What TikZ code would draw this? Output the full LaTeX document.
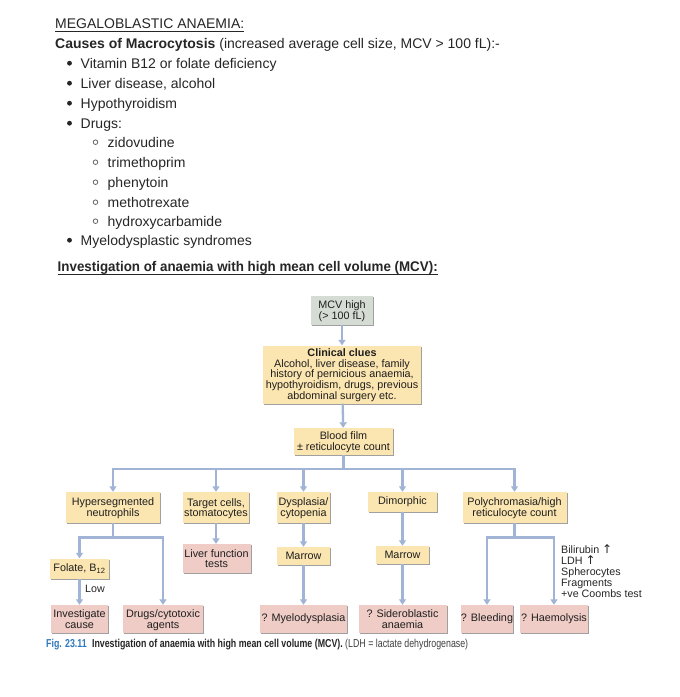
\documentclass[tikz,border=0pt]{standalone}
\usepackage{fontspec}
\setmainfont{Liberation Sans}
\newfontfamily\symf{DejaVu Sans}
\usetikzlibrary{arrows.meta,shadows,calc}
\definecolor{txt}{HTML}{262626}
\definecolor{yel}{HTML}{FBE5B0}
\definecolor{pnk}{HTML}{EFCDC6}
\definecolor{gry}{HTML}{D5DCD4}
\definecolor{lnk}{HTML}{A2B4D6}
\definecolor{shd}{HTML}{A0A0A0}
\definecolor{figblue}{HTML}{2E78BD}
\newcommand\bxt[2][-1.5pt]{\raisebox{#1}[\height][\depth]{\begin{tabular}{@{}c@{}}#2\end{tabular}}}
\begin{document}
\begin{tikzpicture}[x=1pt,y=-1pt,
  list/.style={anchor=base west,inner sep=0,text=txt,font=\fontsize{14}{16}\selectfont},
  dot/.style={fill=txt},
  ring/.style={draw=txt!70,line width=0.8pt},
  ul/.style={draw=txt,line width=1pt},
  box/.style={inner sep=0,text=black!88,font=\fontsize{10.8}{10.4}\selectfont,
    drop shadow={shadow xshift=1.2pt,shadow yshift=-1.2pt,fill=shd,opacity=1}},
  ybox/.style={box,fill=yel},
  pbox/.style={box,fill=pnk},
  gbox/.style={box,fill=gry},
  conn/.style={draw=lnk,line width=2.3pt},
  arr/.style={conn,-{Triangle[width=7pt,length=5.5pt]}},
  side/.style={inner sep=0,align=left,text=black!85,font=\fontsize{10.7}{11}\selectfont},
]
\useasboundingbox[fill=white] (0,0) rectangle (680,697);

% ---- text part ----
\node[list] (title) at (55,28) {MEGALOBLASTIC ANAEMIA:};
\draw[ul] ($(title.base west)+(0,3.5)$) -- ($(title.base east)+(0,3.5)$);
\node[list] (causes) at (55,48) {\textbf{Causes of Macrocytosis} (increased average cell size, MCV > 100 fL):-};
\foreach \y/\t [count=\i] in {68/Vitamin B12 or folate deficiency,88/{Liver disease, alcohol},108/Hypothyroidism,128/Drugs:,245/Myelodysplastic syndromes}{
  \fill[dot] (69.5,\y-4.8) circle (2.4pt);
  \node[list] (b\i) at (80.5,\y) {\t};
}
\foreach \y/\t [count=\i] in {147/zidovudine,167/trimethoprim,187/phenytoin,207/methotrexate,226/hydroxycarbamide}{
  \draw[ring] (95.5,\y-4.8) circle (2.3pt);
  \node[list] (s\i) at (107.5,\y) {\t};
}
\node[list] (inv) at (57.5,271) {\resizebox{380pt}{\height}{\textbf{Investigation of anaemia with high mean cell volume (MCV):}}};
\draw[ul] ($(inv.base west)+(0,3.5)$) -- ($(inv.base east)+(0,3.5)$);

% ---- flowchart ----
\node[gbox,minimum width=62pt,minimum height=29pt] (mcv) at (342,310) {\bxt{MCV high\\(> 100 fL)}};
\node[ybox,minimum width=158pt,minimum height=58pt,font=\fontsize{10.8}{9.8}\selectfont] (clin) at (342,374.5) {\bxt[-1pt]{\textbf{Clinical clues}\\Alcohol, liver disease, family\\history of pernicious anaemia,\\hypothyroidism, drugs, previous\\abdominal surgery etc.}};
\node[ybox,minimum width=99pt,minimum height=27pt] (film) at (343.5,441.5) {\bxt{Blood film\\± reticulocyte count}};

\node[ybox,minimum width=94pt,minimum height=31pt] (hyper) at (113,507.5) {\bxt{Hypersegmented\\neutrophils}};
\node[ybox,minimum width=66pt,minimum height=31pt] (target) at (216,507.5) {\bxt{Target cells,\\stomatocytes}};
\node[ybox,minimum width=53pt,minimum height=31pt] (dysp) at (303.5,507.5) {\bxt{Dysplasia/\\cytopenia}};
\node[ybox,minimum width=69pt,minimum height=20pt] (dimor) at (402.5,502) {Dimorphic};
\node[ybox,minimum width=104pt,minimum height=31pt] (poly) at (514.5,507.5) {\bxt{Polychromasia/high\\reticulocyte count}};

\node[ybox,minimum width=59pt,minimum height=20pt] (folate) at (79.5,568.5) {Folate, B\textsubscript{12}};
\node[pbox,minimum width=68pt,minimum height=29pt] (liver) at (216.5,558.5) {\bxt{Liver function\\tests}};
\node[ybox,minimum width=53pt,minimum height=18pt] (marrowa) at (303.5,556) {Marrow};
\node[ybox,minimum width=53pt,minimum height=18pt] (marrowb) at (402.5,555) {Marrow};

\node[pbox,minimum width=57pt,minimum height=28pt] (invest) at (79.5,619) {\bxt{Investigate\\cause}};
\node[pbox,minimum width=80pt,minimum height=28pt] (drugs) at (163,619) {\bxt{Drugs/cytotoxic\\agents}};
\node[pbox,minimum width=87pt,minimum height=28pt] (myelo) at (303.5,619) {? Myelodysplasia};
\node[pbox,minimum width=88pt,minimum height=28pt] (sidero) at (402.5,619) {\bxt{? Sideroblastic\\anaemia}};
\node[pbox,minimum width=52pt,minimum height=28pt] (bleed) at (487,619) {? Bleeding};
\node[pbox,minimum width=68pt,minimum height=28pt] (haem) at (554,619) {? Haemolysis};

\node[side,anchor=north west] (clues) at (561,544.5) {Bilirubin {\symf\fontsize{12}{10}\selectfont↑}\\LDH {\symf\fontsize{12}{10}\selectfont↑}\\Spherocytes\\Fragments\\+ve Coombs test};
\node[side,anchor=west] (low) at (85,588.5) {Low};

\coordinate (bus) at (0,469);
\coordinate (busa) at (0,537.5);
\draw[arr] (mcv) -- (clin);
\draw[arr] (clin) -- (film);
\draw[conn] (film.south) -- (film.south |- bus);
\draw[conn,line cap=rect] (hyper.north |- bus) -- (poly.north |- bus);
\foreach \n in {hyper,target,dysp,dimor,poly}{
  \draw[arr] (\n.north |- bus) -- (\n.north);
}
\draw[conn] (hyper.south) -- (hyper.south |- busa);
\draw[conn,line cap=rect] (folate.north |- busa) -- (drugs.north |- busa);
\draw[arr] (folate.north |- busa) -- (folate.north);
\draw[arr] (drugs.north |- busa) -- (drugs.north);
\draw[arr] (folate.south) -- (folate.south |- invest.north);
\draw[arr] (target) -- (target.south |- liver.north);
\draw[arr] (dysp) -- (marrowa);
\draw[arr] (marrowa) -- (myelo);
\draw[arr] (dimor) -- (marrowb);
\draw[arr] (marrowb) -- (marrowb.south |- sidero.north);
\draw[conn] (poly.south) -- (poly.south |- busa);
\draw[conn,line cap=rect] (bleed.north |- busa) -- (haem.north |- busa);
\draw[arr] (bleed.north |- busa) -- (bleed.north);
\draw[arr] (haem.north |- busa) -- (haem.north);

\node[anchor=base west,inner sep=0,font=\fontsize{11.5}{12}\selectfont] (cap) at (46,647.5)
  {\resizebox{422pt}{\height}{\textcolor{figblue}{\textbf{Fig. 23.11}}\hspace{0.6em}\textcolor{black!85}{\textbf{Investigation of anaemia with high mean cell volume (MCV).}} \textcolor{black!75}{(LDH = lactate dehydrogenase)}}};
\end{tikzpicture}
\end{document}
